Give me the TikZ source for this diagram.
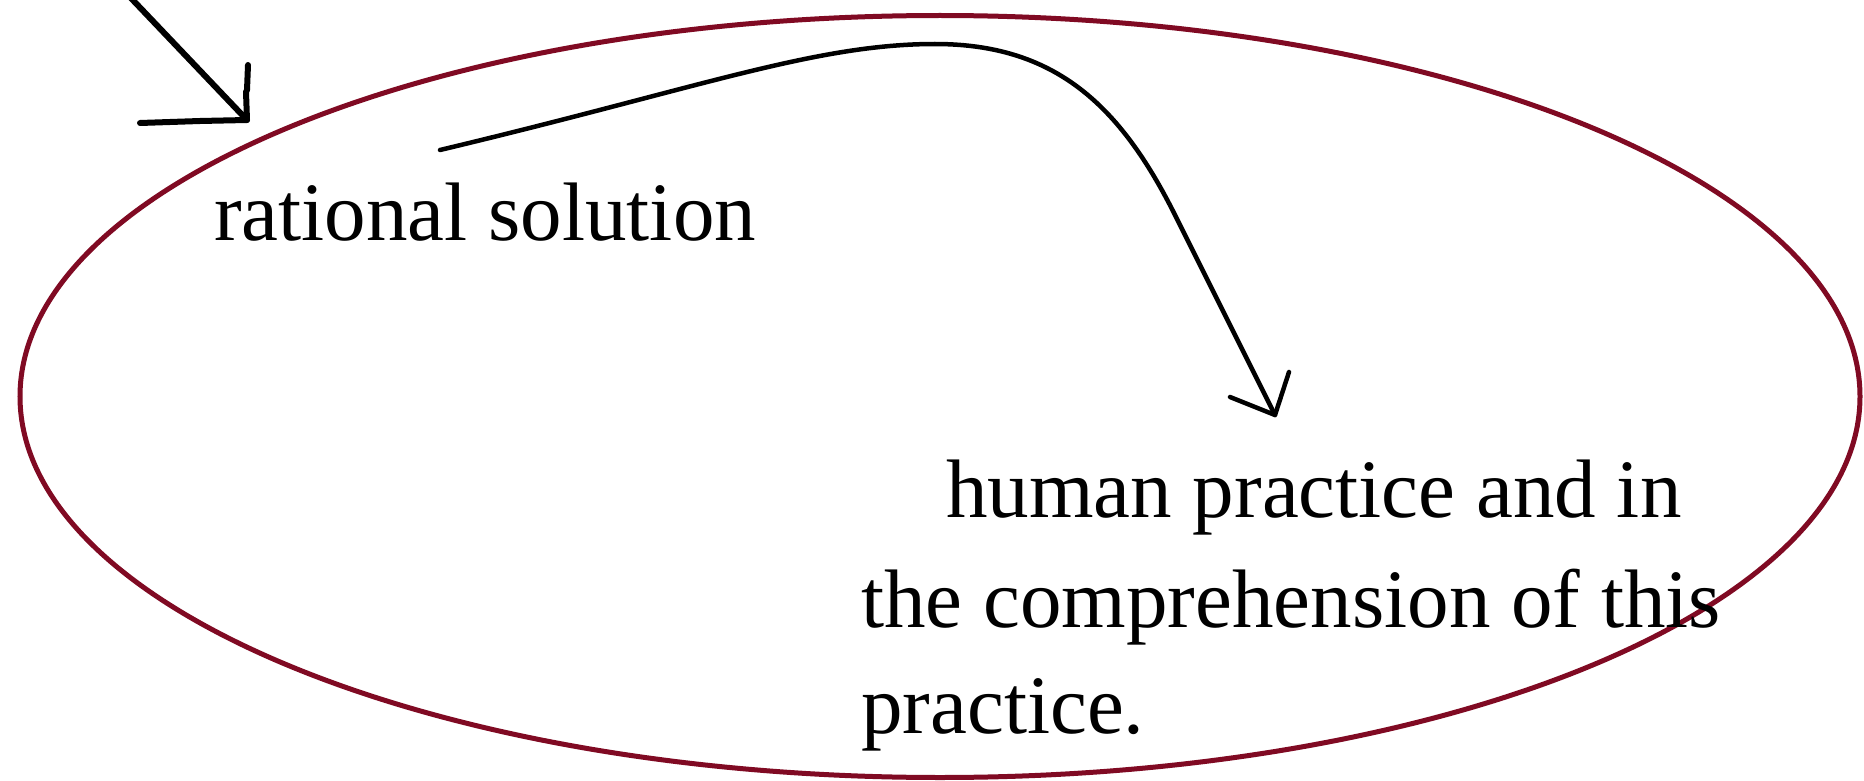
\documentclass[tikz,border=0pt]{standalone}
\usepackage{fontspec}
\setmainfont{Liberation Serif}
\definecolor{maroon}{RGB}{128,10,35}
\begin{document}
\begin{tikzpicture}[x=1pt,y=-1pt,
  txt/.style={anchor=base west,inner sep=0pt,font=\fontsize{83}{108}\selectfont},
  ring/.style={draw=maroon,line width=5pt},
  pen/.style={draw=black,line width=6pt,line cap=round,line join=round},
  thinpen/.style={draw=black,line width=4.5pt,line cap=round,line join=round}]
\useasboundingbox (0,0) rectangle (1864,781);
\fill[white] (0,0) rectangle (1864,781);
% ellipse
\path[ring] (940,396.5) ellipse [x radius=920pt, y radius=381pt];
% texts
\node[txt] (rat) at (214,240) {rational solution};
\node[txt] (hum1) at (946,517) {human practice and in};
\node[txt] (hum2) at (861,627) {the comprehension of this};
\node[txt] (hum3) at (861,733) {practice.};
% top-left arrow
\coordinate (tlfrom) at (129,-4);
\coordinate (tltip) at (247,120);
\coordinate (tlbarbA) at (248,65);
\coordinate (tlbarbB) at (140,123);
\path[pen] (tlfrom) -- (tltip);
\path[pen] (tlbarbA) -- (247,90) -- (246,92) -- (tltip) -- (200,121) -- (tlbarbB);
% curved arrow
\coordinate (cs) at (440,150);
\coordinate (ce) at (1275,415);
\path[thinpen] (cs) .. controls (700,88) and (815,44) .. (935,44)
  .. controls (1055,44) and (1120,105) .. (1175,215) -- (ce);
\coordinate (cbA) at (1230,397);
\coordinate (cbB) at (1289,372);
\path[thinpen] (cbA) -- (ce) -- (cbB);
\end{tikzpicture}
\end{document}
